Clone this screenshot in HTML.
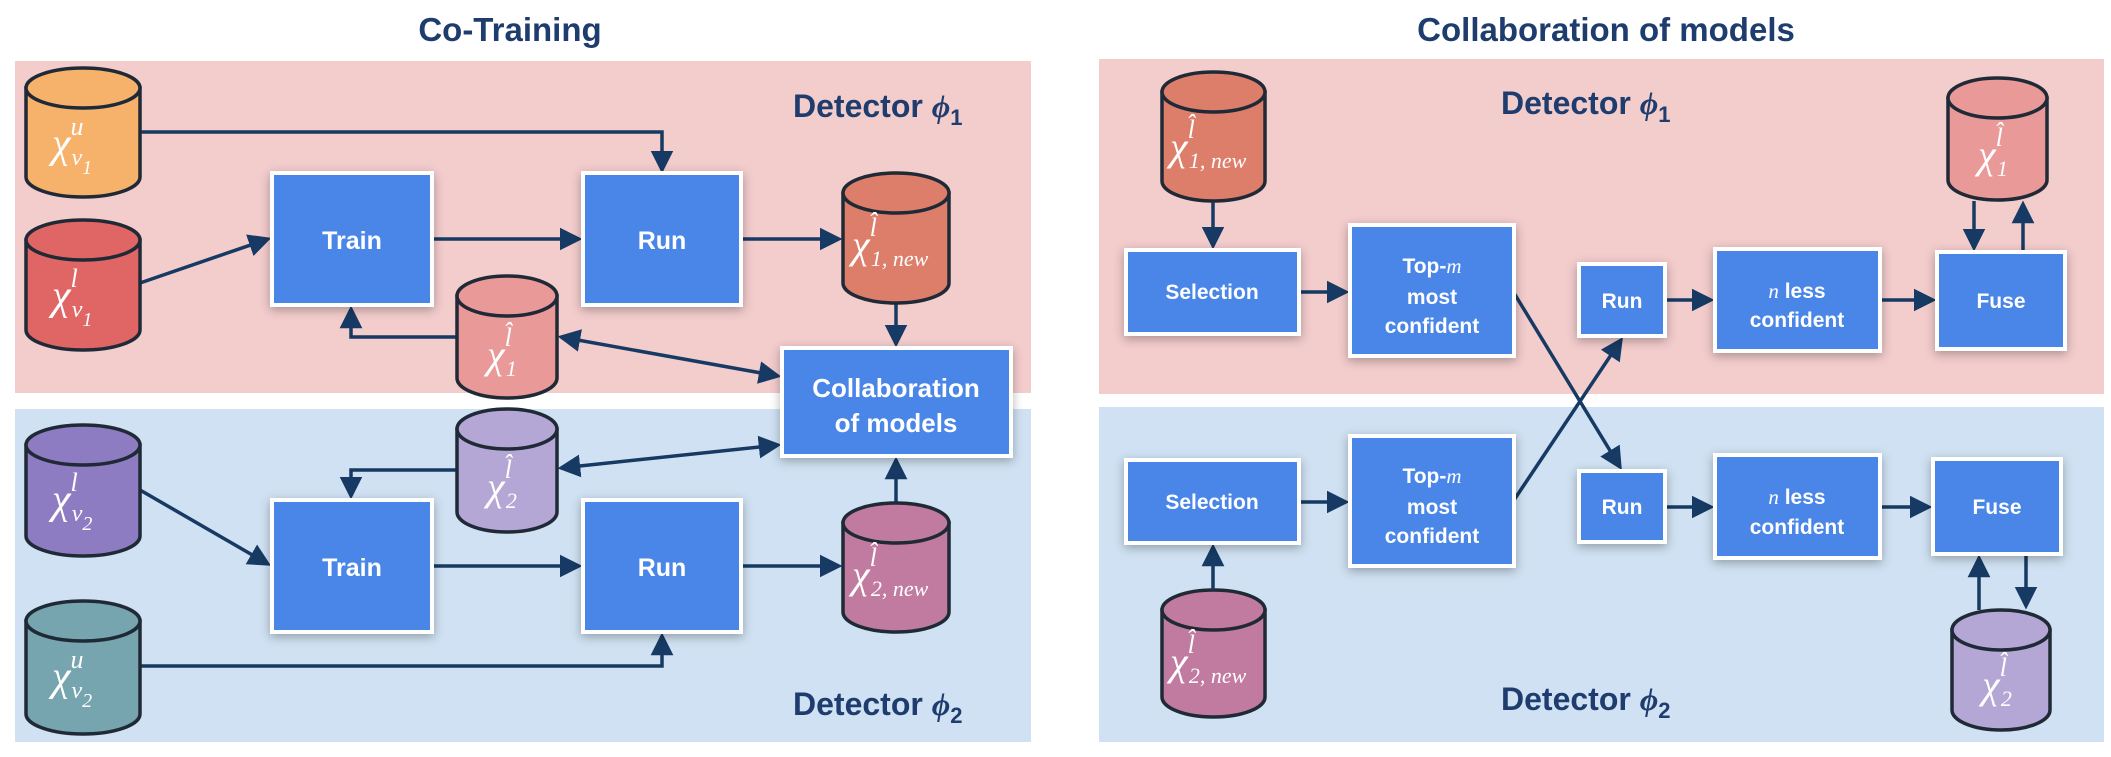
<!DOCTYPE html>
<html><head><meta charset="utf-8"><style>
html,body{margin:0;padding:0;background:#fff}
svg{display:block}
.t{font-family:"Liberation Sans",sans-serif;font-weight:bold;fill:#1e3d6e}
.b{font-family:"Liberation Sans",sans-serif;font-weight:bold;fill:#fff;text-anchor:middle}
.m{font-family:"Liberation Serif",serif;font-style:italic;fill:#fff}
.cy path,.cy ellipse{stroke:#1f2a36;stroke-width:3.5}
.a{stroke:#163a63;stroke-width:3.5;fill:none}
.bx{fill:#4a86e8;stroke:#fff;stroke-width:4;filter:url(#sh)}
</style></head><body>
<svg width="2111" height="757" viewBox="0 0 2111 757" xmlns="http://www.w3.org/2000/svg">
<defs>
<marker id="ar" markerWidth="6.5" markerHeight="6.5" refX="5.5" refY="3.25" orient="auto-start-reverse" markerUnits="strokeWidth"><path d="M0,0 L6.5,3.25 L0,6.5 Z" fill="#163a63"/></marker>
<filter id="sh" x="-20%" y="-20%" width="140%" height="140%"><feDropShadow dx="0" dy="3" stdDeviation="5" flood-color="#000" flood-opacity="0.3"/></filter>
</defs>
<rect x="15" y="61" width="1016" height="332" fill="#f3cccc"/>
<rect x="15" y="409" width="1016" height="333" fill="#cfe1f2"/>
<rect x="1099" y="59" width="1005" height="335" fill="#f3cccc"/>
<rect x="1099" y="407" width="1005" height="335" fill="#cfe1f2"/>
<text class="t" x="510" y="41" font-size="33" text-anchor="middle">Co-Training</text>
<text class="t" x="1606" y="41" font-size="33" text-anchor="middle">Collaboration of models</text>
<text class="t" x="793" y="117" font-size="32">Detector <tspan class="m" style="fill:#1e3d6e">ϕ</tspan><tspan font-size="22" dy="8">1</tspan></text>
<text class="t" x="793" y="715" font-size="32">Detector <tspan class="m" style="fill:#1e3d6e">ϕ</tspan><tspan font-size="22" dy="8">2</tspan></text>
<text class="t" x="1501" y="114" font-size="32">Detector <tspan class="m" style="fill:#1e3d6e">ϕ</tspan><tspan font-size="22" dy="8">1</tspan></text>
<text class="t" x="1501" y="710" font-size="32">Detector <tspan class="m" style="fill:#1e3d6e">ϕ</tspan><tspan font-size="22" dy="8">2</tspan></text>

<path class="a" d="M140,132 H662 V170" marker-end="url(#ar)"/>
<path class="a" d="M140,283 L268,239" marker-end="url(#ar)"/>
<path class="a" d="M432,239 H579" marker-end="url(#ar)"/>
<path class="a" d="M741,239 H839" marker-end="url(#ar)"/>
<path class="a" d="M896,304 V344" marker-end="url(#ar)"/>
<path class="a" d="M457,337 H351 V309" marker-end="url(#ar)"/>
<path class="a" d="M561,337 L778,376" marker-start="url(#ar)" marker-end="url(#ar)"/>
<path class="a" d="M561,468 L778,445" marker-start="url(#ar)" marker-end="url(#ar)"/>
<path class="a" d="M457,470 H351 V496" marker-end="url(#ar)"/>
<path class="a" d="M140,490 L268,564" marker-end="url(#ar)"/>
<path class="a" d="M432,566 H579" marker-end="url(#ar)"/>
<path class="a" d="M741,566 H839" marker-end="url(#ar)"/>
<path class="a" d="M896,502 V460" marker-end="url(#ar)"/>
<path class="a" d="M140,666 H662 V636" marker-end="url(#ar)"/>

<rect class="bx" x="272" y="173" width="160" height="132"/>
<rect class="bx" x="583" y="173" width="158" height="132"/>
<rect class="bx" x="272" y="500" width="160" height="132"/>
<rect class="bx" x="583" y="500" width="158" height="132"/>
<rect class="bx" x="782" y="348" width="229" height="108"/>
<text class="b" x="352" y="249" font-size="25">Train</text>
<text class="b" x="662" y="249" font-size="25">Run</text>
<text class="b" x="352" y="576" font-size="25">Train</text>
<text class="b" x="662" y="576" font-size="25">Run</text>
<text class="b" x="896" y="397" font-size="26">Collaboration</text>
<text class="b" x="896" y="432" font-size="26">of models</text>

<g class="cy">
<path d="M26,88 V177 A57,20 0 0 0 140,177 V88 Z" fill="#f6b26b"/><ellipse cx="83" cy="88" rx="57" ry="20" fill="#f6b26b"/>
<path d="M26,240 V330 A57,20 0 0 0 140,330 V240 Z" fill="#e06666"/><ellipse cx="83" cy="240" rx="57" ry="20" fill="#e06666"/>
<path d="M26,445 V536 A57,20 0 0 0 140,536 V445 Z" fill="#8e7cc3"/><ellipse cx="83" cy="445" rx="57" ry="20" fill="#8e7cc3"/>
<path d="M26,621 V714 A57,20 0 0 0 140,714 V621 Z" fill="#76a5af"/><ellipse cx="83" cy="621" rx="57" ry="20" fill="#76a5af"/>
<path d="M843,193 V283 A53,20 0 0 0 949,283 V193 Z" fill="#dd7e6b"/><ellipse cx="896" cy="193" rx="53" ry="20" fill="#dd7e6b"/>
<path d="M457,296 V378 A50,20 0 0 0 557,378 V296 Z" fill="#ea9999"/><ellipse cx="507" cy="296" rx="50" ry="20" fill="#ea9999"/>
<path d="M457,429 V512 A50,20 0 0 0 557,512 V429 Z" fill="#b4a7d6"/><ellipse cx="507" cy="429" rx="50" ry="20" fill="#b4a7d6"/>
<path d="M843,523 V612 A53,20 0 0 0 949,612 V523 Z" fill="#c27ba0"/><ellipse cx="896" cy="523" rx="53" ry="20" fill="#c27ba0"/>
<path d="M1162,92 V181 A51.5,20 0 0 0 1265,181 V92 Z" fill="#dd7e6b"/><ellipse cx="1213.5" cy="92" rx="51.5" ry="20" fill="#dd7e6b"/>
<path d="M1948,98 V180 A49.5,20 0 0 0 2047,180 V98 Z" fill="#ea9999"/><ellipse cx="1997.5" cy="98" rx="49.5" ry="20" fill="#ea9999"/>
<path d="M1162,610 V697 A51.5,20 0 0 0 1265,697 V610 Z" fill="#c27ba0"/><ellipse cx="1213.5" cy="610" rx="51.5" ry="20" fill="#c27ba0"/>
<path d="M1952,630 V710 A49,20 0 0 0 2050,710 V630 Z" fill="#b4a7d6"/><ellipse cx="2001" cy="630" rx="49" ry="20" fill="#b4a7d6"/>
</g>
<g class="m">
<text x="52" y="157" font-size="42">χ<tspan font-size="26" dy="-22">u</tspan><tspan font-size="24" dx="-12" dy="30">v</tspan><tspan font-size="20" dy="9">1</tspan></text>
<text x="52" y="309" font-size="42">χ<tspan font-size="26" dy="-22">l</tspan><tspan font-size="24" dx="-6" dy="30">v</tspan><tspan font-size="20" dy="9">1</tspan></text>
<text x="52" y="513" font-size="42">χ<tspan font-size="26" dy="-22">l</tspan><tspan font-size="24" dx="-6" dy="30">v</tspan><tspan font-size="20" dy="9">2</tspan></text>
<text x="52" y="690" font-size="42">χ<tspan font-size="26" dy="-22">u</tspan><tspan font-size="24" dx="-12" dy="30">v</tspan><tspan font-size="20" dy="9">2</tspan></text>
<text x="852" y="258" font-size="40">χ<tspan font-size="26" dy="-22">l̂</tspan><tspan font-size="22" dx="-6" dy="30">1, new</tspan></text>
<text x="852" y="588" font-size="40">χ<tspan font-size="26" dy="-22">l̂</tspan><tspan font-size="22" dx="-6" dy="30">2, new</tspan></text>
<text x="487" y="368" font-size="40">χ<tspan font-size="26" dy="-22">l̂</tspan><tspan font-size="22" dx="-6" dy="30">1</tspan></text>
<text x="487" y="500" font-size="40">χ<tspan font-size="26" dy="-22">l̂</tspan><tspan font-size="22" dx="-6" dy="30">2</tspan></text>
<text x="1170" y="160" font-size="40">χ<tspan font-size="26" dy="-22">l̂</tspan><tspan font-size="22" dx="-6" dy="30">1, new</tspan></text>
<text x="1170" y="675" font-size="40">χ<tspan font-size="26" dy="-22">l̂</tspan><tspan font-size="22" dx="-6" dy="30">2, new</tspan></text>
<text x="1978" y="168" font-size="40">χ<tspan font-size="26" dy="-22">l̂</tspan><tspan font-size="22" dx="-6" dy="30">1</tspan></text>
<text x="1982" y="698" font-size="40">χ<tspan font-size="26" dy="-22">l̂</tspan><tspan font-size="22" dx="-6" dy="30">2</tspan></text>
</g>

<path class="a" d="M1213,202 V246" marker-end="url(#ar)"/>
<path class="a" d="M1299,292 H1346" marker-end="url(#ar)"/>
<path class="a" d="M1665,300 H1711" marker-end="url(#ar)"/>
<path class="a" d="M1880,300 H1933" marker-end="url(#ar)"/>
<path class="a" d="M1974,201 V248" marker-end="url(#ar)"/>
<path class="a" d="M2023,252 V204" marker-end="url(#ar)"/>
<path class="a" d="M1514,293 L1620,467" marker-end="url(#ar)"/>
<path class="a" d="M1514,500 L1621,340" marker-end="url(#ar)"/>
<path class="a" d="M1213,590 V547" marker-end="url(#ar)"/>
<path class="a" d="M1299,502 H1346" marker-end="url(#ar)"/>
<path class="a" d="M1665,507 H1711" marker-end="url(#ar)"/>
<path class="a" d="M1880,507 H1929" marker-end="url(#ar)"/>
<path class="a" d="M1979,610 V558" marker-end="url(#ar)"/>
<path class="a" d="M2026,554 V606" marker-end="url(#ar)"/>

<rect class="bx" x="1126" y="250" width="173" height="84"/>
<rect class="bx" x="1350" y="225" width="164" height="131"/>
<rect class="bx" x="1579" y="264" width="86" height="72"/>
<rect class="bx" x="1715" y="249" width="165" height="102"/>
<rect class="bx" x="1937" y="252" width="128" height="97"/>
<rect class="bx" x="1126" y="460" width="173" height="83"/>
<rect class="bx" x="1350" y="436" width="164" height="130"/>
<rect class="bx" x="1579" y="471" width="86" height="71"/>
<rect class="bx" x="1715" y="455" width="165" height="103"/>
<rect class="bx" x="1933" y="459" width="128" height="95"/>
<g font-size="21">
<text class="b" x="1212" y="299">Selection</text>
<text class="b" x="1432" y="273">Top-<tspan class="m" font-weight="normal">m</tspan></text>
<text class="b" x="1432" y="304">most</text>
<text class="b" x="1432" y="333">confident</text>
<text class="b" x="1622" y="308">Run</text>
<text class="b" x="1797" y="298"><tspan class="m" font-weight="normal">n</tspan> less</text>
<text class="b" x="1797" y="327">confident</text>
<text class="b" x="2001" y="308">Fuse</text>
<text class="b" x="1212" y="509">Selection</text>
<text class="b" x="1432" y="483">Top-<tspan class="m" font-weight="normal">m</tspan></text>
<text class="b" x="1432" y="514">most</text>
<text class="b" x="1432" y="543">confident</text>
<text class="b" x="1622" y="514">Run</text>
<text class="b" x="1797" y="504"><tspan class="m" font-weight="normal">n</tspan> less</text>
<text class="b" x="1797" y="534">confident</text>
<text class="b" x="1997" y="514">Fuse</text>
</g>
</svg>
</body></html>
